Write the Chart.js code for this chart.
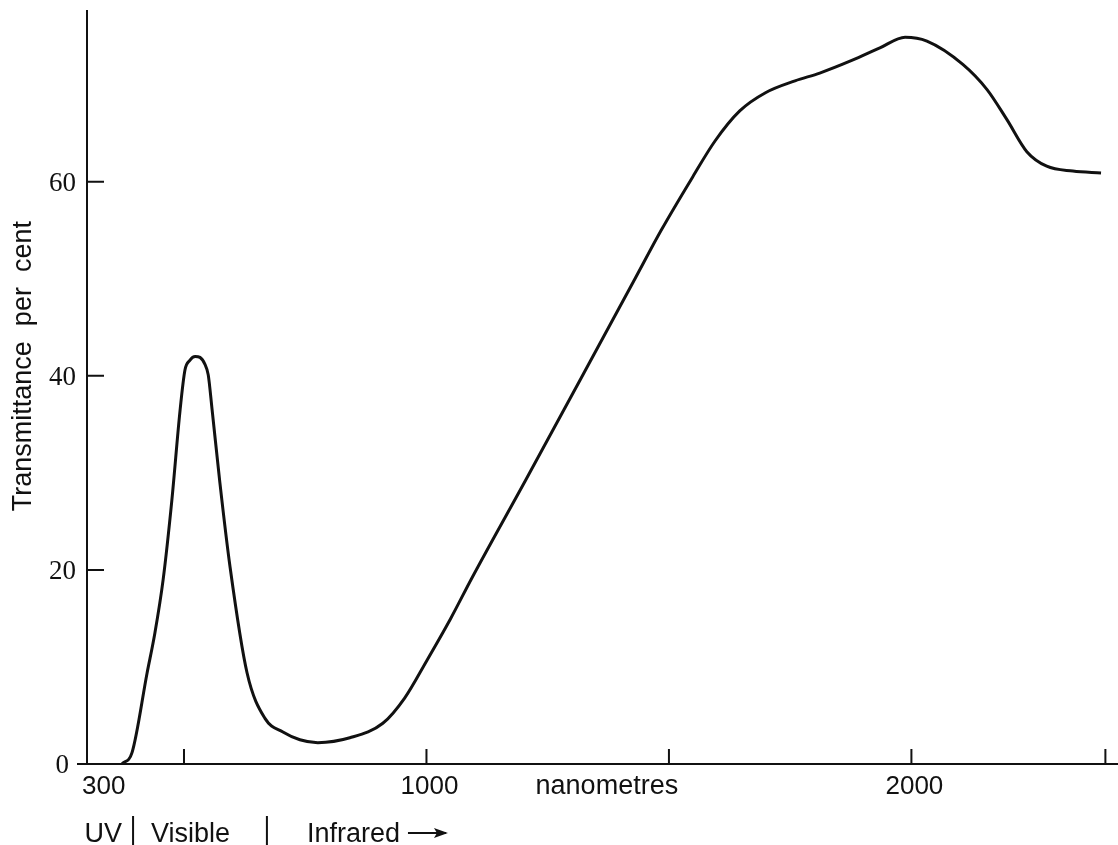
<!DOCTYPE html>
<html>
<head>
<meta charset="utf-8">
<script src="https://cdn.jsdelivr.net/npm/chart.js@4"></script>
<style>
  body { margin: 0; background: #fff; }
  #wrap { width: 1118px; height: 845px; }
</style>
</head>
<body>
<div id="wrap"><canvas id="myChart"></canvas></div>
<script>
// wavelength in nanometres, transmittance in per cent
var wavelength = [372, 393, 424, 440, 457, 475, 492, 502, 512, 523, 533, 543, 550, 558, 574, 595,
  630, 667, 704, 739, 776, 842, 910, 955, 1000, 1050, 1094, 1205, 1316, 1430, 1484, 1549,
  1595, 1646, 1700, 1760, 1811, 1877, 1935, 1987, 2032, 2106, 2156, 2197, 2238, 2279, 2333, 2391];
var transmittance = [0, 1.2, 9.4, 13.5, 19, 27.2, 36.5, 40.6, 41.6, 42.0, 41.9, 41.2, 40.1, 36.5, 29, 20.3,
  9.4, 4.7, 3.3, 2.5, 2.2, 2.7, 4.2, 6.8, 10.6, 15.0, 19.2, 29.3, 39.5, 50, 55, 60.5,
  64.2, 67.3, 69.2, 70.4, 71.2, 72.5, 73.8, 74.9, 74.5, 72.1, 69.5, 66.4, 63.1, 61.6, 61.1, 60.9];

var xTickMarks = [500, 1000, 1500, 2000, 2400];
var xTickLabels = [[300, '300'], [1000, '1000'], [2000, '2000']];
var yTicks = [0, 20, 40, 60];
var regionEdges = [395, 671];   // UV | Visible | Infrared

var points = wavelength.map(function (w, i) { return {x: w, y: transmittance[i]}; });

var sans = '"Liberation Sans", Arial, sans-serif';
var serif = '"Liberation Serif", "Times New Roman", serif';

var decor = {
  id: 'decor',
  afterDraw: function (chart) {
    var ctx = chart.ctx, xs = chart.scales.x, ys = chart.scales.y;
    var x0 = xs.getPixelForValue(300), yb = ys.getPixelForValue(0);
    ctx.save();
    ctx.strokeStyle = '#111';
    ctx.fillStyle = '#111';
    ctx.lineWidth = 2;

    // axes
    ctx.beginPath();
    ctx.moveTo(x0, ys.getPixelForValue(ys.max));
    ctx.lineTo(x0, yb);
    ctx.moveTo(x0 - 10, yb);
    ctx.lineTo(chart.width, yb);
    ctx.stroke();

    // inward tick marks
    ctx.beginPath();
    xTickMarks.forEach(function (v) {
      var p = xs.getPixelForValue(v);
      ctx.moveTo(p, yb);
      ctx.lineTo(p, yb - 15);
    });
    yTicks.forEach(function (v) {
      if (v === 0) return;
      var p = ys.getPixelForValue(v);
      ctx.moveTo(x0, p);
      ctx.lineTo(x0 + 17, p);
    });
    ctx.stroke();

    // y tick labels
    ctx.font = '27px ' + serif;
    ctx.textAlign = 'right';
    ctx.textBaseline = 'middle';
    yTicks.forEach(function (v) {
      ctx.fillText(String(v), v === 0 ? x0 - 18 : x0 - 11, ys.getPixelForValue(v) + 2);
    });

    // x tick labels
    ctx.font = '26px ' + sans;
    ctx.textBaseline = 'alphabetic';
    xTickLabels.forEach(function (t) {
      var p = xs.getPixelForValue(t[0]);
      if (t[0] === 300) { ctx.textAlign = 'left'; ctx.fillText(t[1], p - 5, yb + 30); }
      else { ctx.textAlign = 'center'; ctx.fillText(t[1], p + 3, yb + 30); }
    });
    ctx.textAlign = 'center';
    ctx.font = '27px ' + sans;
    ctx.fillText('nanometres', xs.getPixelForValue(1372), yb + 30);

    // region row
    var b1 = xs.getPixelForValue(regionEdges[0]), b2 = xs.getPixelForValue(regionEdges[1]);
    var ry = yb + 78;
    ctx.beginPath();
    ctx.moveTo(b1, yb + 52); ctx.lineTo(b1, chart.height);
    ctx.moveTo(b2, yb + 52); ctx.lineTo(b2, chart.height);
    ctx.stroke();
    ctx.textAlign = 'right';
    ctx.fillText('UV', b1 - 11, ry);
    ctx.textAlign = 'left';
    ctx.fillText('Visible', b1 + 18, ry);
    ctx.fillText('Infrared', b2 + 40, ry);
    var ax = b2 + 40 + ctx.measureText('Infrared').width + 8, ay = ry - 9;
    ctx.beginPath();
    ctx.moveTo(ax, ay); ctx.lineTo(ax + 38, ay);
    ctx.stroke();
    ctx.beginPath();
    ctx.moveTo(ax + 40, ay); ctx.lineTo(ax + 26, ay - 5); ctx.lineTo(ax + 29, ay); ctx.lineTo(ax + 26, ay + 5);
    ctx.closePath();
    ctx.fill();

    // y title
    ctx.translate(24, ys.getPixelForValue(41));
    ctx.rotate(-Math.PI / 2);
    ctx.textAlign = 'center';
    ctx.textBaseline = 'middle';
    ctx.font = '27px ' + sans;
    ctx.fillText('Transmittance  per  cent', 0, 0);
    ctx.restore();
  }
};

var ctx = document.getElementById('myChart').getContext('2d');
var chart = new Chart(ctx, {
  type: 'line',
  data: {
    datasets: [{
      label: 'Transmittance',
      data: points,
      borderColor: '#111',
      borderWidth: 3,
      pointRadius: 0,
      fill: false,
      cubicInterpolationMode: 'monotone'
    }]
  },
  options: {
    responsive: true,
    maintainAspectRatio: false,
    animation: false,
    layout: { padding: { left: 87, top: 10, right: 0, bottom: 81 } },
    plugins: { legend: { display: false }, tooltip: { enabled: false } },
    scales: {
      x: { type: 'linear', min: 300, max: 2426, display: false },
      y: { min: 0, max: 77.7, display: false }
    }
  },
  plugins: [decor]
});
</script>
</body>
</html>
